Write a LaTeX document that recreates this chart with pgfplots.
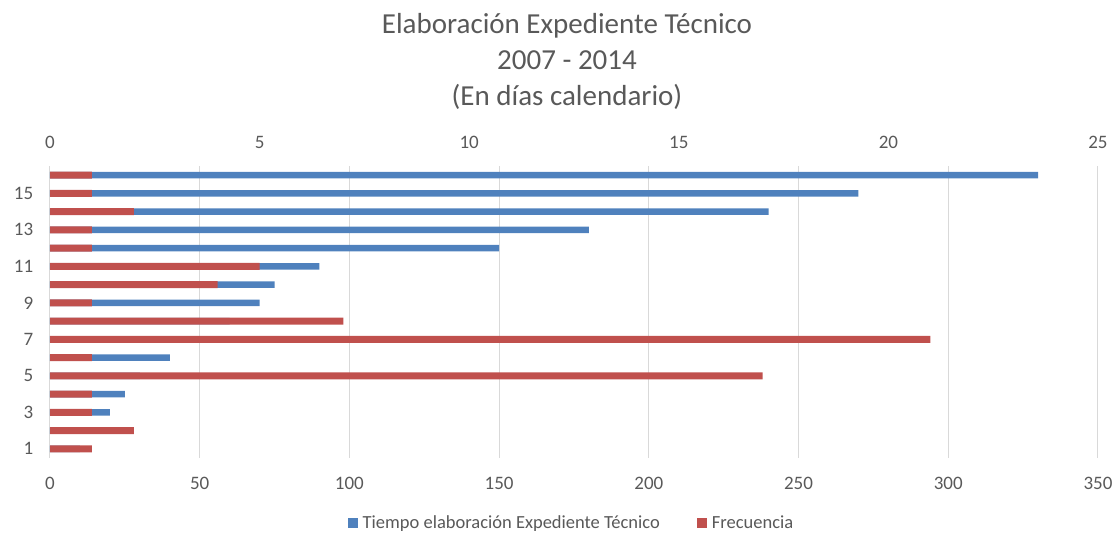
\documentclass[border=0pt]{standalone}
\usepackage{pgfplots}
\usepackage{pgfplotstable}
\pgfplotsset{compat=1.18}
\usepackage{fontspec}
\setmainfont{Carlito}
\definecolor{barblue}{HTML}{4F81BD}
\definecolor{barred}{HTML}{C0504D}
\definecolor{txtgray}{HTML}{595959}
\definecolor{gridgray}{HTML}{D9D9D9}

\pgfplotstableread{
cat days
1 10
2 15
3 20
4 25
5 30
6 40
7 45
8 60
9 70
10 75
11 90
12 150
13 180
14 240
15 270
16 330
}\tiempo

\pgfplotstableread{
cat freq
1 1
2 2
3 1
4 1
5 17
6 1
7 21
8 7
9 1
10 4
11 5
12 1
13 1
14 2
15 1
16 1
}\frecuencia

\pgfplotsset{
  common/.style={
    scale only axis, width=1048bp, height=292bp,
    at={(50bp,76bp)}, anchor=south west,
    ymin=0.5, ymax=16.5,
    xbar, bar shift=0pt,
    axis line style={draw=none},
    tick style={draw=none},
    /pgf/number format/assume math mode=true,
    ticklabel style={font=\fontsize{19bp}{22bp}\selectfont, text=txtgray},
  }
}

\begin{document}
\begin{tikzpicture}
\useasboundingbox (0,0) rectangle (1114bp,534bp);

\begin{axis}[common, bar width=6.4bp,
  xmin=0, xmax=350, xtick={0,50,...,350},
  xmajorgrids, major grid style={gridgray, line width=1bp},
  ytick={1,3,...,15},
  xticklabel style={yshift=-16bp},
  yticklabel style={xshift=-9bp},
]
\addplot[fill=barblue, draw=none] table[x=days, y=cat] {\tiempo};
\end{axis}

\begin{axis}[common, bar width=7bp,
  axis x line*=top,
  xmin=0, xmax=25, xtick={0,5,...,25},
  ytick=\empty,
  xticklabel style={yshift=14bp},
  legend style={draw=none, at={(0.4976,-0.2226)}, anchor=center,
    font=\fontsize{18.5bp}{22bp}\selectfont, text=txtgray,
    legend columns=2,
    /tikz/every odd column/.append style={column sep=3bp},
    /tikz/every even column/.append style={column sep=35bp}},
  legend image code/.code={\fill[#1] (0bp,-5bp) rectangle (10bp,5bp);},
]
\addlegendimage{fill=barblue, draw=none}
\addlegendentry{Tiempo elaboración Expediente Técnico}
\addplot[fill=barred, draw=none] table[x=freq, y=cat] {\frecuencia};
\addlegendentry{Frecuencia}
\end{axis}

\node[text=txtgray, font=\fontsize{29bp}{34bp}\selectfont, anchor=base] at (567bp,500bp) {Elaboración Expediente Técnico};
\node[text=txtgray, font=\fontsize{29bp}{34bp}\selectfont, anchor=base] at (567bp,464bp) {2007 - 2014};
\node[text=txtgray, font=\fontsize{29bp}{34bp}\selectfont, anchor=base] at (567bp,428bp) {(En días calendario)};
\end{tikzpicture}
\end{document}
